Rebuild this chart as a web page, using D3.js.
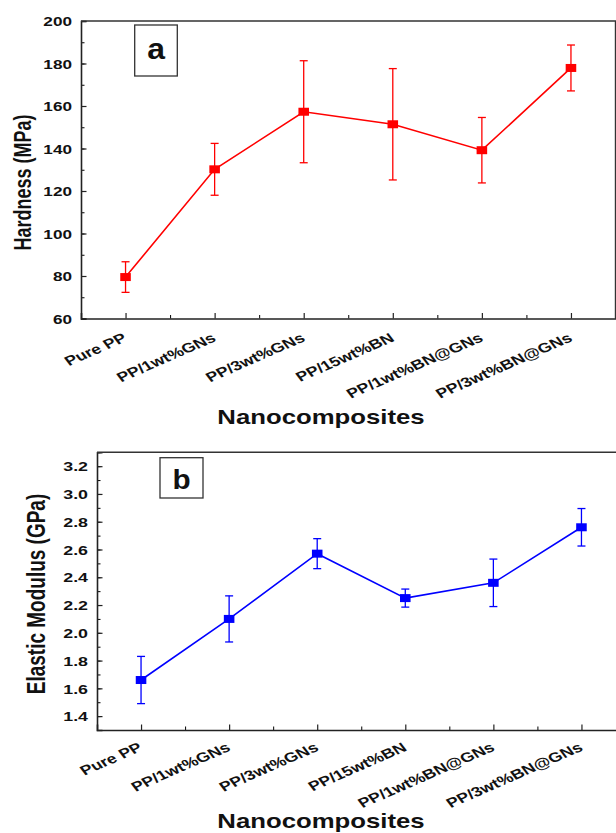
<!DOCTYPE html>
<html>
<head>
<meta charset="utf-8">
<script src="https://cdn.jsdelivr.net/npm/d3@7"></script>
<style>
  body { margin: 0; background: #fff; }
  text { font-family: "Liberation Sans", Arial, sans-serif; font-weight: bold; fill: #111; }
</style>
</head>
<body>
<svg id="chart" width="616" height="833"></svg>
<script>
// data
const categories = ["Pure PP", "PP/1wt%GNs", "PP/3wt%GNs", "PP/15wt%BN", "PP/1wt%BN@GNs", "PP/3wt%BN@GNs"];
const hardness = [79.5, 130.2, 157.3, 151.4, 139.2, 177.9];
const hardnessErr = [7.2, 12.2, 24.0, 26.2, 15.4, 10.8];
const modulus = [1.66, 2.10, 2.57, 2.25, 2.36, 2.76];
const modulusErr = [0.17, 0.166, 0.108, 0.065, 0.171, 0.135];
const hardnessTicks = [60, 80, 100, 120, 140, 160, 180, 200];
const modulusTicks = [1.4, 1.6, 1.8, 2.0, 2.2, 2.4, 2.6, 2.8, 3.0, 3.2];

// the original picture is stretched sideways, text follows that
const SX = 1.32;

const svg = d3.select("#chart");

function drawPanel(p) {
    const g = svg.append("g");
    const idx = categories.map((c, i) => i + 1);

    const x = d3.scaleLinear().domain([0.5, 6.5]).range([p.left, p.right]);
    const y = d3.scaleLinear().domain(p.domain).range([p.bottom, p.top]);

    // minor ticks
    const minorY = d3.range(p.domain[0], p.domain[1] + 1e-9, p.minorStep);
    g.append("g")
        .attr("transform", `translate(${p.left},0)`)
        .call(d3.axisLeft(y).tickValues(minorY).tickSize(-3.5).tickFormat(""))
        .call(a => a.select(".domain").remove());
    g.append("g")
        .attr("transform", `translate(0,${p.bottom})`)
        .call(d3.axisBottom(x).tickValues([1.5, 2.5, 3.5, 4.5, 5.5, 6.5]).tickSize(-3.5).tickFormat(""))
        .call(a => a.select(".domain").remove());

    // left axis
    const yAxis = g.append("g")
        .attr("transform", `translate(${p.left},0)`)
        .call(d3.axisLeft(y).tickValues(p.ticks).tickSize(-5.5).tickFormat(p.fmt));
    yAxis.selectAll("text")
        .attr("x", null).attr("dy", null)
        .attr("dominant-baseline", "central")
        .attr("text-anchor", "end")
        .attr("font-size", p.tickFont)
        .attr("transform", `translate(-9,0) scale(${SX},1)`);

    // bottom axis
    const xAxis = g.append("g")
        .attr("transform", `translate(0,${p.bottom})`)
        .call(d3.axisBottom(x).tickValues(idx).tickSize(-5.5).tickFormat(d => categories[d - 1]));
    xAxis.selectAll("text")
        .attr("y", null).attr("dy", null)
        .attr("text-anchor", "end")
        .attr("font-size", 13.5)
        .attr("transform", `translate(${p.labelDx},${p.labelDy}) scale(${SX},1) rotate(-30)`);

    [yAxis, xAxis].forEach(a => {
        a.selectAll("line").attr("stroke", "#222").attr("stroke-width", 1.2);
        a.select(".domain").attr("stroke", "#222").attr("stroke-width", 1.6);
    });

    // top and right frame
    g.append("path")
        .attr("d", `M${p.left},${p.top}H${p.right}V${p.bottom}`)
        .attr("fill", "none")
        .attr("stroke", "#333")
        .attr("stroke-width", 1.4);

    // error bars
    const capW = 4;
    const eb = g.append("g").attr("stroke", p.color).attr("stroke-width", 1.3);
    p.values.forEach((v, i) => {
        const cx = x(i + 1);
        const y1 = y(v + p.errors[i]), y2 = y(v - p.errors[i]);
        eb.append("line").attr("x1", cx).attr("x2", cx).attr("y1", y1).attr("y2", y2);
        eb.append("line").attr("x1", cx - capW).attr("x2", cx + capW).attr("y1", y1).attr("y2", y1);
        eb.append("line").attr("x1", cx - capW).attr("x2", cx + capW).attr("y1", y2).attr("y2", y2);
    });

    // connecting line
    const line = d3.line().x((d, i) => x(i + 1)).y(d => y(d));
    g.append("path")
        .datum(p.values)
        .attr("d", line)
        .attr("fill", "none")
        .attr("stroke", p.color)
        .attr("stroke-width", 1.6);

    // square markers
    const mh = 8, mw = 8 * SX;
    g.selectAll(".pt")
        .data(p.values)
        .enter().append("rect")
        .attr("x", (d, i) => x(i + 1) - mw / 2)
        .attr("y", d => y(d) - mh / 2)
        .attr("width", mw)
        .attr("height", mh)
        .attr("fill", p.color);

    // panel letter box
    g.append("rect")
        .attr("x", p.box[0]).attr("y", p.box[1])
        .attr("width", p.box[2]).attr("height", p.box[3])
        .attr("fill", "#fff")
        .attr("stroke", "#333")
        .attr("stroke-width", 1.3);
    g.append("text")
        .attr("text-anchor", "middle")
        .attr("font-size", p.letterSize)
        .attr("transform", `translate(${p.box[0] + p.box[2] / 2},${p.letterY}) scale(1.1,1)`)
        .text(p.letter);

    // axis titles
    g.append("text")
        .attr("text-anchor", "middle")
        .attr("font-size", p.yTitleSize)
        .attr("transform", `translate(${p.yTitleX},${p.yTitleY}) scale(${SX},1) rotate(-90)`)
        .text(p.yTitle);
    g.append("text")
        .attr("text-anchor", "middle")
        .attr("font-size", 19.5)
        .attr("transform", `translate(321,${p.xTitleY}) scale(${SX},1)`)
        .text("Nanocomposites");
}

drawPanel({
    left: 81, right: 615.5, top: 21, bottom: 318.5,
    domain: [60, 200], ticks: hardnessTicks, minorStep: 10, fmt: d3.format("d"),
    values: hardness, errors: hardnessErr, color: "#ff0000",
    tickFont: 13, labelDx: 2, labelDy: 22,
    box: [134.7, 25, 42.6, 51], letter: "a", letterSize: 29, letterY: 59,
    yTitle: "Hardness (MPa)", yTitleSize: 18, yTitleX: 30.5, yTitleY: 182.5,
    xTitleY: 424
});

drawPanel({
    left: 97, right: 625.5, top: 452.3, bottom: 730,
    domain: [1.3, 3.3], ticks: modulusTicks, minorStep: 0.1, fmt: d3.format(".1f"),
    values: modulus, errors: modulusErr, color: "#0000ff",
    tickFont: 13.5, labelDx: 2, labelDy: 20,
    box: [160, 457.7, 43, 40.3], letter: "b", letterSize: 27, letterY: 489,
    yTitle: "Elastic Modulus (GPa)", yTitleSize: 19, yTitleX: 45, yTitleY: 594,
    xTitleY: 828
});
</script>
</body>
</html>
